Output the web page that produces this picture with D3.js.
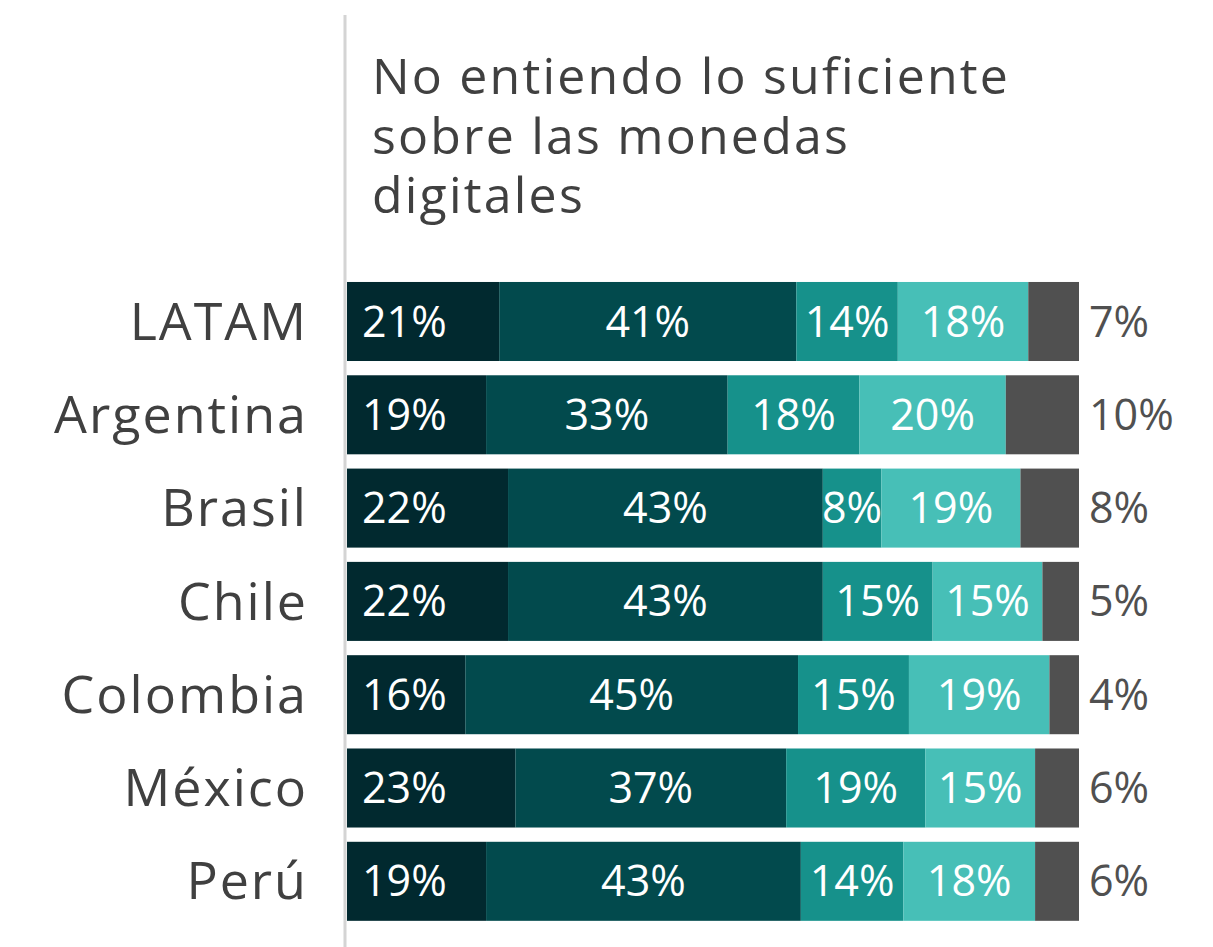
<!DOCTYPE html>
<html>
<head>
<meta charset="utf-8">
<script src="https://cdn.jsdelivr.net/npm/d3@7"></script>
<style>
  body { margin: 0; background: #fff; }
  svg { display: block; font-family: 'Open Sans', sans-serif; }
</style>
</head>
<body>
<svg id="chart" width="1213" height="947"></svg>
<script>
(function() {

  // data
  let countries = ['LATAM', 'Argentina', 'Brasil', 'Chile', 'Colombia', 'México', 'Perú'];
  let seg1 = [21, 19, 22, 22, 16, 23, 19];
  let seg2 = [41, 33, 43, 43, 45, 37, 43];
  let seg3 = [14, 18, 8, 15, 15, 19, 14];
  let seg4 = [18, 20, 19, 15, 19, 15, 18];
  let seg5 = [7, 10, 8, 5, 4, 6, 6];
  let colors = ['#01292f', '#024a4d', '#16918b', '#47bfb7', '#505050'];
  let titleLines = ['No entiendo lo suficiente', 'sobre las monedas', 'digitales'];

  let svg = d3.select('#chart');
  let textGray = '#404040';

  let series = [seg1, seg2, seg3, seg4, seg5];
  let rows = countries.map((c, i) => {
    let vals = series.map((s) => s[i]);
    let total = d3.sum(vals);
    let x0 = 0;
    let segs = vals.map((v, k) => {
      let seg = { k: k, value: v, start: x0 / total, end: (x0 + v) / total };
      x0 += v;
      return seg;
    });
    return { country: c, segs: segs };
  });

  let xScale = d3.scaleLinear().domain([0, 1]).range([347, 1079]);
  let yScale = d3.scaleBand()
    .domain(countries)
    .range([267.7, 935.1])
    .paddingInner(0.153)
    .paddingOuter(0.153);

  // vertical axis line
  svg.append('line')
    .attr('x1', 345).attr('x2', 345)
    .attr('y1', 15).attr('y2', 947)
    .attr('stroke', '#d4d4d4')
    .attr('stroke-width', 3);

  // title, one text per line
  svg.selectAll('text.title')
    .data(titleLines)
    .join('text')
      .attr('class', 'title')
      .attr('x', 372)
      .attr('y', (d, i) => 94 + i * 59.5)
      .attr('fill', textGray)
      .attr('font-size', '50px')
      .attr('letter-spacing', '2.2px')
      .text((d) => d);

  let rowG = svg.selectAll('g.row')
    .data(rows)
    .join('g')
      .attr('class', 'row')
      .attr('transform', (d) => `translate(0, ${yScale(d.country)})`);

  let bh = yScale.bandwidth();

  rowG.selectAll('rect')
    .data((d) => d.segs)
    .join('rect')
      .attr('x', (d) => xScale(d.start))
      .attr('width', (d) => xScale(d.end) - xScale(d.start))
      .attr('y', 0)
      .attr('height', bh)
      .attr('fill', (d) => colors[d.k]);

  // category labels
  rowG.append('text')
    .attr('x', 308)
    .attr('y', bh / 2)
    .attr('dy', '0.35em')
    .attr('text-anchor', 'end')
    .attr('fill', textGray)
    .attr('font-size', '52px')
    .attr('letter-spacing', '2px')
    .text((d) => d.country);

  // value labels
  rowG.selectAll('text.val')
    .data((d) => d.segs)
    .join('text')
      .attr('class', 'val')
      .attr('x', (d) => {
        if (d.k === 0) return xScale(d.start) + 15;
        if (d.k === 4) return 1089;
        return (xScale(d.start) + xScale(d.end)) / 2;
      })
      .attr('y', bh / 2)
      .attr('dy', '0.35em')
      .attr('text-anchor', (d) => d.k === 0 || d.k === 4 ? 'start' : 'middle')
      .attr('fill', (d) => d.k === 4 ? '#505050' : '#fff')
      .attr('font-size', '43px')
      .text((d) => d.value + '%');

})();
</script>
</body>
</html>
